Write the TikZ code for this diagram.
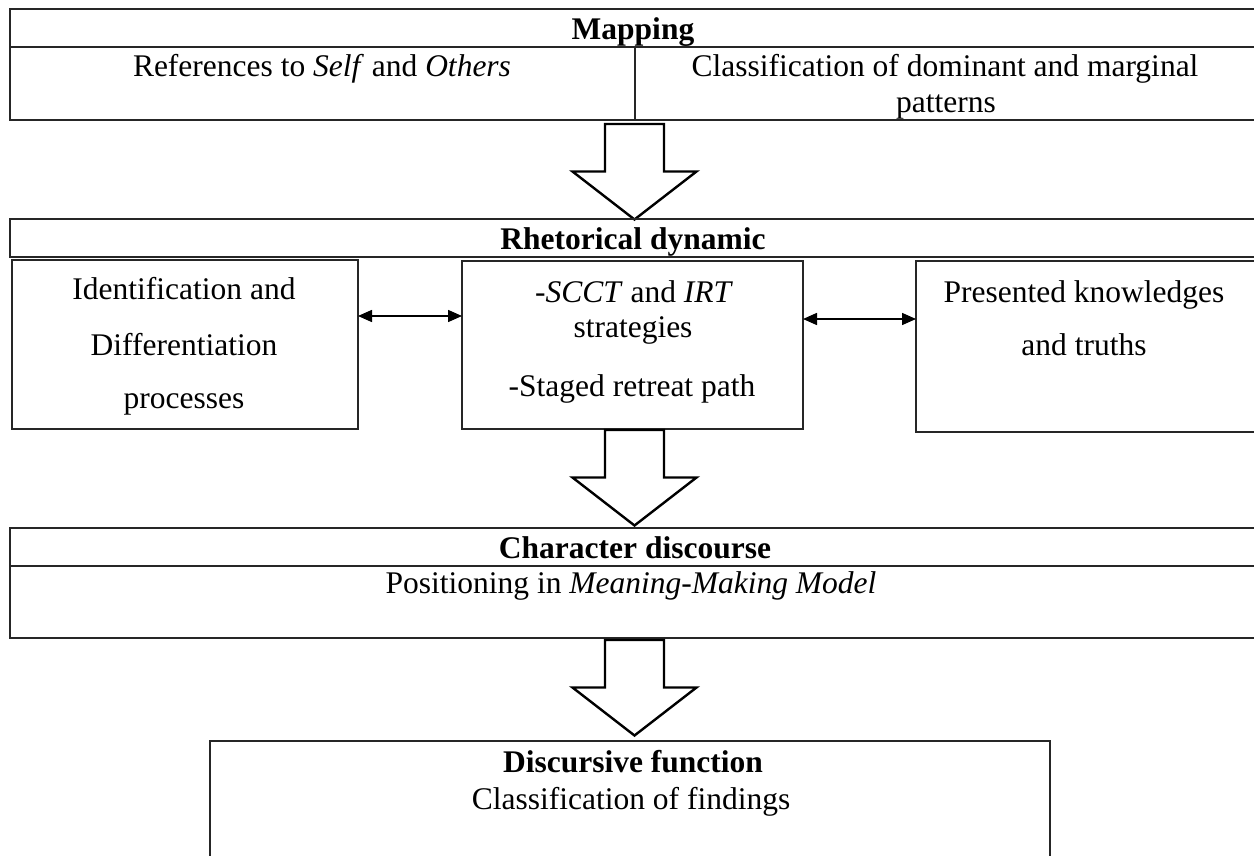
\documentclass[tikz,border=0pt]{standalone}
\usepackage{fontspec}
\setmainfont{Liberation Serif}
\usetikzlibrary{arrows.meta}
\tikzset{
  boxnode/.style={draw=black!85, line width=1.5pt, rectangle, inner sep=0pt, outer sep=0pt, anchor=north west},
  txt/.style={inner sep=0pt, anchor=base, font=\fontsize{31.5}{38}\selectfont},
  hd/.style={inner sep=0pt, anchor=base, font=\fontsize{31.5}{38}\selectfont\bfseries},
  dbl/.style={line width=1.5pt, draw=black, {Triangle[length=14pt,width=12pt]}-{Triangle[length=14pt,width=12pt]}},
  downarrow/.pic={
    \draw[line width=2.4pt, fill=white, line join=miter]
      (-29.5,0) -- (-29.5,47.5) -- (-62,47.5) -- (0,95.5) -- (62,47.5) -- (29.5,47.5) -- (29.5,0) -- cycle;
  }
}
\begin{document}
\begin{tikzpicture}[x=1pt,y=-1pt]
\useasboundingbox (0,0) rectangle (1254,856);
\fill[white] (0,0) rectangle (1254,856);

% Mapping
\node[boxnode, minimum width=1246pt, minimum height=38pt] (maphead) at (10,9) {};
\node[boxnode, minimum width=625pt, minimum height=73pt] (mapleft) at (10,47) {};
\node[boxnode, minimum width=621pt, minimum height=73pt] (mapright) at (635,47) {};
\node[hd] (maptitle) at (633,40) {Mapping};
\node[txt] (mapltext) at (322,77) {References to \textit{Self} and \textit{Others}};
\node[txt] (maprtexta) at (945,77) {Classification of dominant and marginal};
\node[txt] (maprtextb) at (946,113) {patterns};

\pic at (634.5,124) {downarrow};

% Rhetorical dynamic
\node[boxnode, minimum width=1246pt, minimum height=38pt] (rhethead) at (10,219) {};
\node[hd] (rhettitle) at (633,249) {Rhetorical dynamic};
\node[boxnode, minimum width=346pt, minimum height=169pt] (lbox) at (12,260) {};
\node[boxnode, minimum width=341pt, minimum height=168pt] (mbox) at (462,261) {};
\node[boxnode, minimum width=340pt, minimum height=171pt] (rbox) at (916,261) {};

\node[txt] (lta) at (184,299) {Identification and};
\node[txt] (ltb) at (184,355) {Differentiation};
\node[txt] (ltc) at (184,408) {processes};

\node[txt] (mta) at (634,302) {-\textit{SCCT} and \textit{IRT}};
\node[txt] (mtb) at (633,337) {strategies};
\node[txt] (mtc) at (632,396) {-Staged retreat path};

\node[txt] (rta) at (1084,302) {Presented knowledges};
\node[txt] (rtb) at (1084,355) {and truths};

\draw[dbl] ([yshift=28.5pt]lbox.east) -- ([yshift=29pt]mbox.west);
\draw[dbl] ([yshift=26pt]mbox.east) -- ([yshift=27.5pt]rbox.west);

\pic at (634.5,430) {downarrow};

% Character discourse
\node[boxnode, minimum width=1246pt, minimum height=38pt] (charhead) at (10,528) {};
\node[boxnode, minimum width=1246pt, minimum height=72pt] (charbody) at (10,566) {};
\node[hd] (chartitle) at (635,558) {Character discourse};
\node[txt] (chartext) at (631,593) {Positioning in \textit{Meaning-Making Model}};

\pic at (634.5,640) {downarrow};

% Discursive function
\node[boxnode, minimum width=840pt, minimum height=160pt] (disbox) at (210,741) {};
\node[hd] (distitle) at (633,772) {Discursive function};
\node[txt] (distext) at (631,809) {Classification of findings};
\end{tikzpicture}
\end{document}
